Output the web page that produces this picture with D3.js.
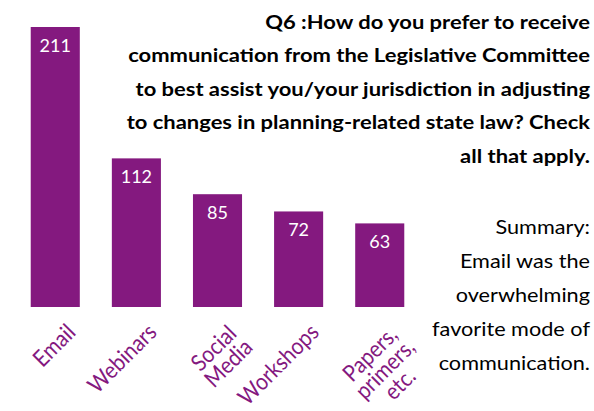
<!DOCTYPE html>
<html>
<head>
<meta charset="utf-8">
<script src="https://cdn.jsdelivr.net/npm/d3@7"></script>
<style>
  body { margin: 0; background: #ffffff; }
  svg { display: block; }
</style>
</head>
<body>
<svg id="chart" width="594" height="411"></svg>
<script>
// Survey responses: preferred channels for Legislative Committee communication
const categories = [["Email"], ["Webinars"], ["Social", "Media"], ["Workshops"], ["Papers,", "primers,", "etc."]];
const counts = [211, 112, 85, 72, 63];

const questionLines = [
  "Q6 :How do you prefer to receive",
  "communication from the Legislative Committee",
  "to best assist you/your jurisdiction in adjusting",
  "to changes in planning-related state law? Check",
  "all that apply."
];

const summaryLines = [
  "Summary:",
  "Email was the",
  "overwhelming",
  "favorite mode of",
  "communication."
];

const purple = "#84197f";
const font = "Lato, 'Open Sans', sans-serif";

const svg = d3.select("#chart");

const x = d3.scaleBand()
  .domain(d3.range(categories.length))
  .range([14.5, 420.5])
  .paddingInner(0.395)
  .paddingOuter(0.2);

const y = d3.scaleLinear()
  .domain([0, 211])
  .range([307, 27]);

// bars
svg.append("g")
  .selectAll("rect")
  .data(counts)
  .join("rect")
  .attr("x", (d, i) => x(i))
  .attr("y", d => y(d))
  .attr("width", x.bandwidth())
  .attr("height", d => y(0) - y(d))
  .attr("fill", purple);

// value labels inside bar tops
svg.append("g")
  .selectAll("text")
  .data(counts)
  .join("text")
  .attr("x", (d, i) => x(i) + x.bandwidth() / 2)
  .attr("y", d => y(d) + 25)
  .attr("text-anchor", "middle")
  .attr("font-family", font)
  .attr("font-size", 18)
  .attr("fill", "#ffffff")
  .text(d => d);

// rotated category labels: block's top-right corner hangs from the tick,
// lines centred within the block, glyphs slightly narrowed along the baseline
const labelSize = 23;
const labelG = svg.append("g");
categories.forEach((lines, i) => {
  const cx = x(i) + x.bandwidth() / 2;
  const g = labelG.append("g")
    .attr("transform", `translate(${cx + 9},${y(0) + 14}) rotate(-45) scale(0.9,1)`);
  const t = g.append("text")
    .attr("font-family", font)
    .attr("font-size", labelSize)
    .attr("fill", purple)
    .attr("text-anchor", "middle");
  const spans = lines.map((s, k) => t.append("tspan")
    .attr("x", 0)
    .attr("y", (0.78 + k * 0.92) * labelSize)
    .text(s));
  const w = d3.max(spans, s => s.node().getComputedTextLength());
  spans.forEach(s => s.attr("x", -w / 2));
});

// right-aligned text block; glyphs narrowed so the reference line spans `width`
function textBlock(lines, opts) {
  const g = svg.append("g");
  const t = g.append("text")
    .attr("font-family", font)
    .attr("font-weight", opts.weight)
    .attr("font-size", opts.size)
    .attr("fill", "#000000")
    .attr("text-anchor", "end");
  const spans = lines.map((s, k) => t.append("tspan")
    .attr("x", opts.right)
    .attr("y", opts.top + k * opts.lead)
    .text(s));
  const w = spans[opts.ref].node().getComputedTextLength();
  const sx = opts.width / w;
  g.attr("transform", `translate(${opts.right},0) scale(${sx},1) translate(${-opts.right},0)`);
}

textBlock(questionLines, { weight: 700, size: 19.5, right: 590, top: 29, lead: 33.5, ref: 1, width: 462 });
textBlock(summaryLines, { weight: 400, size: 18.5, right: 590, top: 234, lead: 34, ref: 3, width: 158 });
</script>
</body>
</html>
